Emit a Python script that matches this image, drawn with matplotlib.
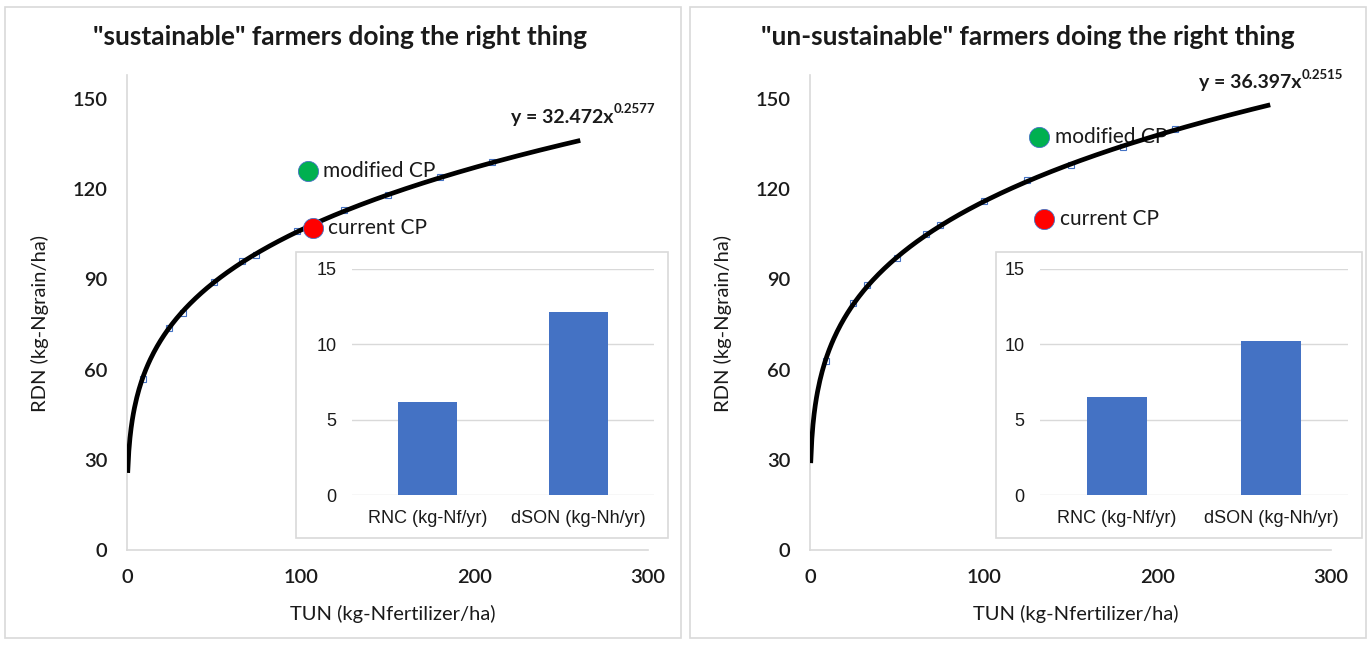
import matplotlib
matplotlib.use("Agg")
import matplotlib.pyplot as plt
from matplotlib.patches import Rectangle
import numpy as np

plt.rcParams['font.family'] = ['Lato', 'DejaVu Sans']

# scenario data
titles = ['"sustainable" farmers doing the right thing',
          '"un-sustainable" farmers doing the right thing']

# power-law trendline coefficients y = a * x^b
fit_a = [32.472, 36.397]
fit_b = [0.2577, 0.2515]
fit_range = [(0.4, 261), (0.4, 265)]

# observed points along each curve
tun_left = [9, 24, 32, 50, 66, 74, 98, 125, 150, 180, 210]
rdn_left = [57, 74, 79, 89, 96, 98, 106, 113, 118, 124, 129]
tun_right = [9, 25, 33, 50, 67, 75, 100, 125, 150, 180, 210]
rdn_right = [63, 82, 88, 97, 105, 108, 116, 123, 128, 134, 140]

# cropping-practice points (TUN, RDN)
modified_cp = [(104, 126), (132, 137.5)]
current_cp = [(107, 107), (135, 110)]

# inset bar values
bar_labels = ['RNC (kg-Nf/yr)', 'dSON (kg-Nh/yr)']
bars_left = [6.2, 12.15]
bars_right = [6.5, 10.2]

W, H = 1370, 646
fig = plt.figure(figsize=(W / 100, H / 100), dpi=100)

def fx(px):
    return px / W

def fy(py):
    return 1 - py / H

grey = '#d9d9d9'
blue = '#4472C4'
ink = '#1a1a1a'

panels = [
    dict(x0=5, x1=681, ax_left=127, title_x=340, inset=(296, 668), grid=(352, 654),
         xs=tun_left, ys=rdn_left, bars=bars_left, eq=(221, 144)),
    dict(x0=690, x1=1366, ax_left=810, title_x=1028, inset=(996, 1362), grid=(1040, 1348),
         xs=tun_right, ys=rdn_right, bars=bars_right, eq=(224, 155.5)),
]

for i, p in enumerate(panels):
    # panel frame
    fig.add_artist(Rectangle((fx(p['x0']), fy(638)), fx(p['x1'] - p['x0']), (638 - 7) / H,
                             transform=fig.transFigure, fill=False, ec=grey, lw=1.2))
    fig.text(fx(p['title_x']), fy(37), titles[i], ha='center', va='center',
             fontsize=19, fontweight='bold', color=ink)

    ax = fig.add_axes([fx(p['ax_left']), fy(550), fx(521), 475 / H])
    ax.set_xlim(0, 300)
    ax.set_ylim(0, 158)
    ax.set_xticks([0, 100, 200, 300])
    ax.set_yticks([0, 30, 60, 90, 120, 150])
    for s in ['top', 'right']:
        ax.spines[s].set_visible(False)
    for s in ['left', 'bottom']:
        ax.spines[s].set_color(grey)
        ax.spines[s].set_linewidth(1.2)
    ax.tick_params(length=0, labelsize=14.5, pad=14, labelcolor=ink)
    for lab in ax.get_xticklabels() + ax.get_yticklabels():
        lab.set_fontweight('semibold')

    ax.plot(p['xs'], p['ys'], ls='none', marker='s', ms=4, mfc='none',
            mec=blue, mew=0.8, zorder=2)
    xx = np.linspace(fit_range[i][0], fit_range[i][1], 400)
    ax.plot(xx, fit_a[i] * xx ** fit_b[i], color='black', lw=3.4,
            solid_capstyle='butt', zorder=3)

    eq = ax.text(p['eq'][0], p['eq'][1], 'y = %.3fx' % fit_a[i],
                 fontsize=14, fontweight='bold', va='center', ha='left', color=ink)
    ax.annotate('%.4f' % fit_b[i], xy=(1.0, 0.95), xycoords=eq, fontsize=9.5,
                fontweight='bold', va='center', ha='left', color=ink)

    gx, gy = modified_cp[i]
    rx, ry = current_cp[i]
    ax.scatter([gx], [gy], s=210, color='#00B050', edgecolor=blue, lw=0.6, zorder=4)
    ax.scatter([rx], [ry], s=210, color='#FF0000', edgecolor=blue, lw=0.6, zorder=4)
    ax.annotate('modified CP', (gx, gy), xytext=(11, 0), textcoords='offset points',
                va='center', fontsize=15, color=ink, zorder=2)
    ax.annotate('current CP', (rx, ry), xytext=(11, 0), textcoords='offset points',
                va='center', fontsize=15, color=ink, zorder=5)

    fig.text(fx(p['ax_left'] + 266), fy(614), 'TUN (kg-Nfertilizer/ha)',
             ha='center', va='center', fontsize=14.5, color=ink)
    fig.text(fx(p['ax_left'] - 87), fy(324), 'RDN (kg-Ngrain/ha)',
             ha='center', va='center', rotation=90, fontsize=14.5, color=ink)

    # inset bar chart
    b0, b1 = p['inset']
    fig.add_artist(Rectangle((fx(b0), fy(538)), fx(b1 - b0), 286 / H,
                             transform=fig.transFigure, fc='white', ec=grey, lw=1.2,
                             zorder=5))
    g0, g1 = p['grid']
    iax = fig.add_axes([fx(g0), fy(495), fx(g1 - g0), 226 / H], zorder=6)
    iax.patch.set_alpha(0)
    iax.bar([0, 1], p['bars'], width=0.39, color=blue, zorder=3)
    iax.set_xlim(-0.5, 1.5)
    iax.set_ylim(0, 15)
    iax.set_yticks([0, 5, 10, 15])
    iax.set_xticks([0, 1])
    iax.set_xticklabels(bar_labels)
    iax.grid(axis='y', color=grey, lw=1)
    for s in iax.spines.values():
        s.set_visible(False)
    iax.tick_params(length=0, pad=11, labelsize=13, labelcolor=ink)
    for lab in iax.get_xticklabels() + iax.get_yticklabels():
        lab.set_family(['Liberation Sans', 'DejaVu Sans'])

fig.savefig('out.png', dpi=100)
